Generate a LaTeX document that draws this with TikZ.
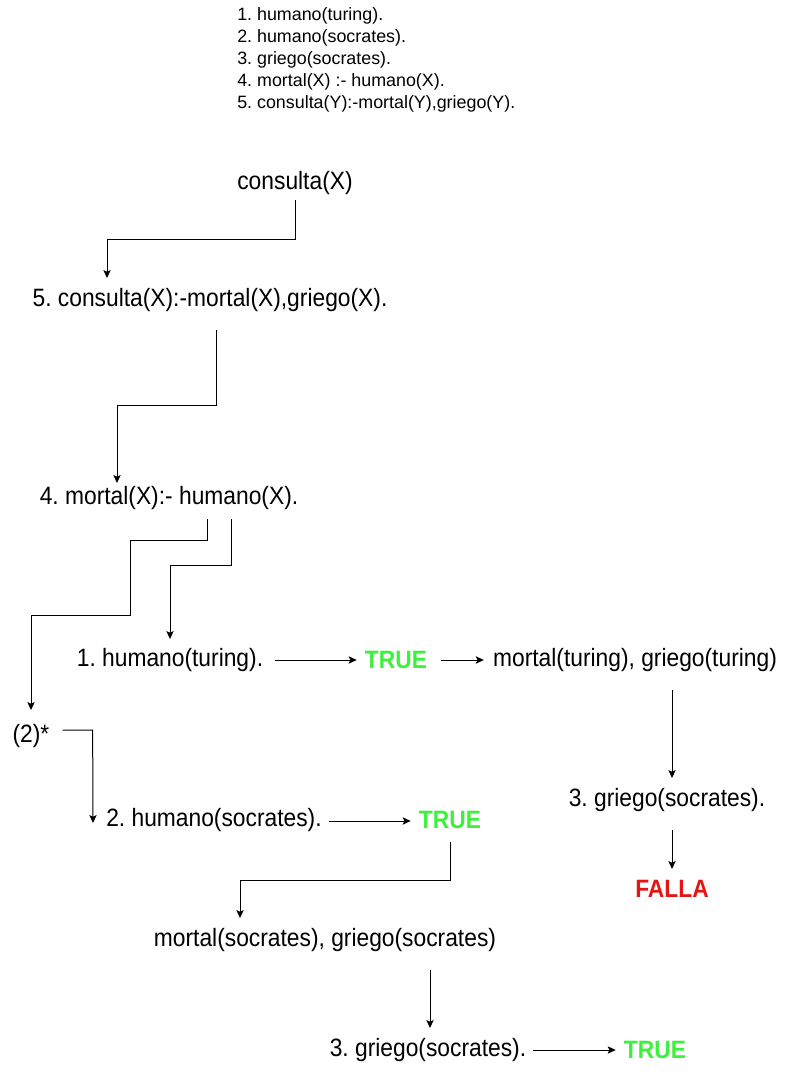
\documentclass[tikz,border=0pt]{standalone}
\usepackage{fontspec}
\usepackage{graphicx}
\setmainfont{Liberation Sans}
\frenchspacing
\usetikzlibrary{arrows.meta,calc}
\definecolor{okgreen}{RGB}{60,240,60}
\definecolor{failred}{RGB}{230,20,20}
\newcommand\tallt[1]{\scalebox{1}[1.1]{#1}}
\tikzset{
  lbl/.style={inner sep=0pt, font=\fontsize{17.1}{20}\selectfont},
  okl/.style={lbl, text=okgreen, font=\fontsize{17.1}{20}\selectfont\bfseries},
  badl/.style={lbl, text=failred, font=\fontsize{17.1}{20}\selectfont\bfseries},
  facts/.style={inner sep=0pt, align=left, anchor=west, font=\fontsize{13.4}{16.5}\selectfont},
  arr/.style={draw=black, line width=0.75pt, -{Stealth[length=6pt,width=5.5pt,inset=1.3pt]}}
}
\begin{document}
\begin{tikzpicture}[x=0.75pt,y=-0.75pt]
\useasboundingbox (0,0) rectangle (786,1080);
\node[facts] (facts) at (237,60) {1. humano(turing).\\2. humano(socrates).\\3. griego(socrates).\\4. mortal(X) :- humano(X).\\5. consulta(Y):-mortal(Y),griego(Y).};
\node[lbl] (cons) at (295,183) {\tallt{consulta(X)}};
\node[lbl] (n5) at (210,300) {\tallt{5. consulta(X):-mortal(X),griego(X).}};
\node[lbl] (n4) at (169,498) {\tallt{4. mortal(X):- humano(X).}};
\node[lbl] (h1) at (170,660) {\tallt{1. humano(turing).}};
\node[okl] (t1) at (396,660) {\tallt{TRUE}};
\node[lbl] (mt) at (635,660) {\tallt{mortal(turing), griego(turing)}};
\node[lbl] (two) at (31,736) {\tallt{(2)*}};
\node[lbl] (h2) at (214,820) {\tallt{2. humano(socrates).}};
\node[okl] (t2) at (450,820) {\tallt{TRUE}};
\node[lbl] (g1) at (667,800) {\tallt{3. griego(socrates).}};
\node[badl] (fa) at (672,889) {\tallt{FALLA}};
\node[lbl] (ms) at (325,940) {\tallt{mortal(socrates), griego(socrates)}};
\node[lbl] (g2) at (428,1050) {\tallt{3. griego(socrates).}};
\node[okl] (t3) at (655,1050) {\tallt{TRUE}};

\draw[arr] ($(cons)+(0,17)$) -- ++(0,40) -| ($(n5)+(-103,-22)$);
\draw[arr] ($(n5)+(6,30)$) -- ++(0,75) -| ($(n4)+(-52,-15)$);
\draw[arr] ($(n4)+(38,21)$) -- ++(0,21) -- ++(-77,0) -- ++(0,75) -| ($(two)+(0,-26)$);
\draw[arr] ($(n4)+(62,21)$) -- ++(0,46) -| ($(h1)+(0,-21)$);
\draw[arr] ($(h1.east)+(12,0)$) -- ($(t1.west)+(-8,0)$);
\draw[arr] ($(t1.east)+(14,0)$) -- ($(mt.west)+(-9,0)$);
\draw[arr] ($(mt)+(37,30)$) -- ($(g1)+(5,-22)$);
\draw[arr] ($(g1)+(5,30)$) -- ($(fa)+(0,-20)$);
\draw[arr] ($(two.east)+(13,-6)$) -- ++(30,0) -- ($(h2.west)+(-13,3)$);
\draw[arr] ($(h2.east)+(7,1)$) -- ($(t2.west)+(-8,1)$);
\draw[arr] ($(t2)+(0,22)$) -- ++(0,38) -| ($(ms)+(-85,-22)$);
\draw[arr] ($(ms)+(105,30)$) -- ($(g2)+(2,-22)$);
\draw[arr] ($(g2.east)+(7,0)$) -- ($(t3.west)+(-8,0)$);
\end{tikzpicture}
\end{document}
